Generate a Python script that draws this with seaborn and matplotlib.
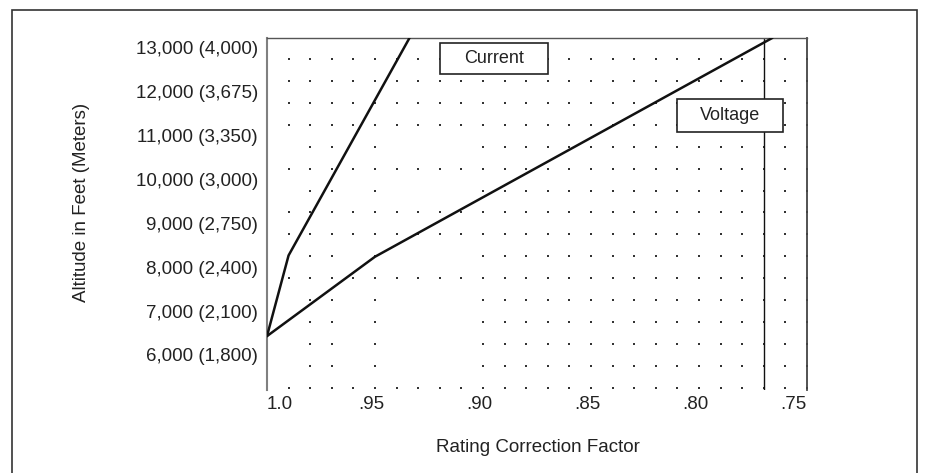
import numpy as np
import matplotlib
matplotlib.use("Agg")
import matplotlib.pyplot as plt
import matplotlib.transforms as mtransforms
from matplotlib.patches import Rectangle
import seaborn as sns

# =========================
# DATA
# =========================
current_factor = [1.0, 0.990, 0.934]
current_alt = [6430, 8270, 13230]

voltage_factor = [1.0, 0.950, 0.766]
voltage_alt = [6430, 8240, 13230]

limit_factor = 0.77

x_ticks = [1.0, 0.95, 0.90, 0.85, 0.80, 0.75]
x_labels = ["1.0", ".95", ".90", ".85", ".80", ".75"]

y_ticks = [6000, 7000, 8000, 9000, 10000, 11000, 12000, 13000]
y_labels = ["6,000 (1,800)", "7,000 (2,100)", "8,000 (2,400)", "9,000 (2,750)",
            "10,000 (3,000)", "11,000 (3,350)", "12,000 (3,675)", "13,000 (4,000)"]

# dotted background grid (rows that have gaps in the original print)
dot_cols = np.round(1.0 - 0.01 * np.arange(1, 26), 2)
dot_rows = 12750 - 500 * np.arange(16)
partial_rows = [4, 6, 9, 11, 12, 13, 14]
partial_cols = [2, 3, 5] + list(range(10, 26))
spine_dot_rows = [0, 2, 8, 10]

gx, gy = [], []
for r, yv in enumerate(dot_rows):
    cols = partial_cols if r in partial_rows else range(1, 26)
    for k in cols:
        gx.append(round(1.0 - 0.01 * k, 2))
        gy.append(yv)
    if r in spine_dot_rows:
        gx.append(1.0)
        gy.append(yv)

# =========================
# PLOT
# =========================
sns.set_style("white")
plt.rcParams["font.family"] = ["Liberation Sans", "DejaVu Sans"]

fig = plt.figure(figsize=(9.27, 4.73), dpi=100)
ax = fig.add_axes([0.2880, 0.1755, 0.5825, 0.7442])

sns.scatterplot(x=gx, y=gy, ax=ax, s=3, marker="s", color="#333333",
                linewidth=0, zorder=1, legend=False)

sns.lineplot(x=current_factor, y=current_alt, ax=ax, sort=False, estimator=None,
             color="#111111", linewidth=1.8, zorder=3)
sns.lineplot(x=voltage_factor, y=voltage_alt, ax=ax, sort=False, estimator=None,
             color="#111111", linewidth=1.8, zorder=3)
ax.axvline(limit_factor, color="#111111", linewidth=1.0, zorder=2)

ax.set_xlim(1.0, 0.75)
ax.set_ylim(5202, 13228)

ax.set_xticks(x_ticks)
ax.set_xticklabels(x_labels, fontsize=13.5, color="#222222")
ax.set_yticks(y_ticks)
ax.set_yticklabels(y_labels, fontsize=13.5, color="#222222")
ax.tick_params(axis="x", length=0, pad=4)
ax.tick_params(axis="y", length=0, pad=6.5)

xl = ax.get_xticklabels()
xl[0].set_ha("left")
xl[-1].set_ha("right")
shift = mtransforms.ScaledTranslation(-4 / 100, 0, fig.dpi_scale_trans)
for lab in xl[1:-1]:
    lab.set_transform(lab.get_transform() + shift)

ax.set_xlabel("Rating Correction Factor", fontsize=13.5, color="#222222", va="center")
ax.xaxis.set_label_coords(0.502, -0.1648)
ax.set_ylabel("Altitude in Feet (Meters)", fontsize=13.5, color="#222222", va="center")
ax.yaxis.set_label_coords(-0.3426, 0.534)

ax.spines["bottom"].set_visible(False)
ax.spines["left"].set_color("#808080")
ax.spines["left"].set_linewidth(1.5)
ax.spines["top"].set_color("#555555")
ax.spines["top"].set_linewidth(1.0)
ax.spines["right"].set_color("#444444")
ax.spines["right"].set_linewidth(1.3)

# label boxes
for x0, y0, w, h, txt in [(0.3204, 0.8977, 0.2000, 0.0881, "Current"),
                          (0.7593, 0.7330, 0.1963, 0.0937, "Voltage")]:
    ax.add_patch(Rectangle((x0, y0), w, h, transform=ax.transAxes, facecolor="white",
                           edgecolor="#222222", linewidth=1.2, zorder=4))
    ax.text(x0 + w / 2, y0 + h / 2, txt, transform=ax.transAxes, ha="center",
            va="center", fontsize=13, color="#222222", zorder=5)

# outer frame (bottom edge runs off the image)
fig.add_artist(Rectangle((0.01295, -0.05), 0.9763, 1.0289, transform=fig.transFigure,
                         fill=False, edgecolor="#333333", linewidth=1.2))

plt.savefig("out.png", dpi=100)
plt.close()
